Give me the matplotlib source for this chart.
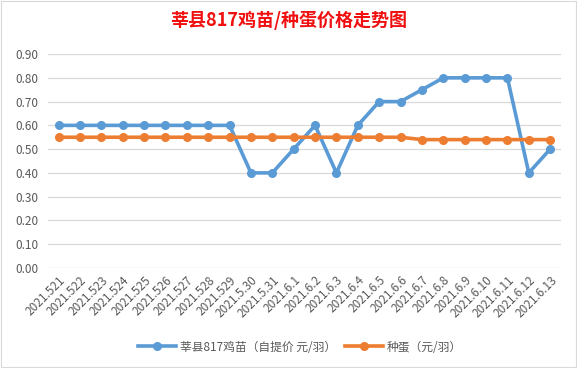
import matplotlib
matplotlib.use("Agg")
import matplotlib.pyplot as plt
import numpy as np

plt.rcParams["font.family"] = ["Noto Sans CJK SC", "DejaVu Sans"]
plt.rcParams["axes.unicode_minus"] = False

dates = [
    "2021.521", "2021.522", "2021.523", "2021.524", "2021.525", "2021.526",
    "2021.527", "2021.528", "2021.529", "2021.5.30", "2021.5.31", "2021.6.1",
    "2021.6.2", "2021.6.3", "2021.6.4", "2021.6.5", "2021.6.6", "2021.6.7",
    "2021.6.8", "2021.6.9", "2021.6.10", "2021.6.11", "2021.6.12", "2021.6.13",
]
chick_price = [
    0.60, 0.60, 0.60, 0.60, 0.60, 0.60, 0.60, 0.60, 0.60, 0.40, 0.40, 0.50,
    0.60, 0.40, 0.60, 0.70, 0.70, 0.75, 0.80, 0.80, 0.80, 0.80, 0.40, 0.50,
]
egg_price = [
    0.55, 0.55, 0.55, 0.55, 0.55, 0.55, 0.55, 0.55, 0.55, 0.55, 0.55, 0.55,
    0.55, 0.55, 0.55, 0.55, 0.55, 0.54, 0.54, 0.54, 0.54, 0.54, 0.54, 0.54,
]
y_ticks = np.arange(0, 0.91, 0.1)

fig = plt.figure(figsize=(5.77, 3.68), dpi=100)
fig.patch.set_facecolor("white")
ax = fig.add_axes([0.083, 0.272, 0.889, 0.581])

x = np.arange(len(dates))
ax.plot(x, chick_price, color="#5B9BD5", lw=2.6, marker="o", ms=5.5,
        label="莘县817鸡苗（自提价 元/羽）", zorder=3)
ax.plot(x, egg_price, color="#ED7D31", lw=2.6, marker="o", ms=5.5,
        label="种蛋（元/羽）", zorder=3)

ax.set_xlim(-0.5, len(dates) - 0.5)
ax.set_ylim(0, 0.9)
ax.set_yticks(y_ticks)
ax.set_yticklabels([f"{v:.2f}" for v in y_ticks])
ax.set_xticks(x)
ax.set_xticklabels(dates, rotation=45, ha="right", rotation_mode="anchor")
ax.tick_params(axis="both", length=0, colors="#595959", labelsize=8.5)
ax.tick_params(axis="y", pad=7)
ax.tick_params(axis="x", pad=4)
ax.yaxis.grid(True, color="#D9D9D9", lw=0.9)
ax.set_axisbelow(True)
for s in ax.spines.values():
    s.set_visible(False)

fig.text(0.5, 0.945, "莘县817鸡苗/种蛋价格走势图", ha="center", va="center",
         fontsize=13, fontweight="bold", color="#F01010")

fig.legend(loc="center", bbox_to_anchor=(0.52, 0.057), ncol=2, frameon=False,
           fontsize=8.5, labelcolor="#595959", handlelength=3.2,
           columnspacing=0.8, handletextpad=0.3)

fig.patches.append(plt.Rectangle((0.002, 0.003), 0.996, 0.994, transform=fig.transFigure,
                                 fill=False, edgecolor="#D9D9D9", lw=0.8))

fig.savefig("out.png", dpi=100)
